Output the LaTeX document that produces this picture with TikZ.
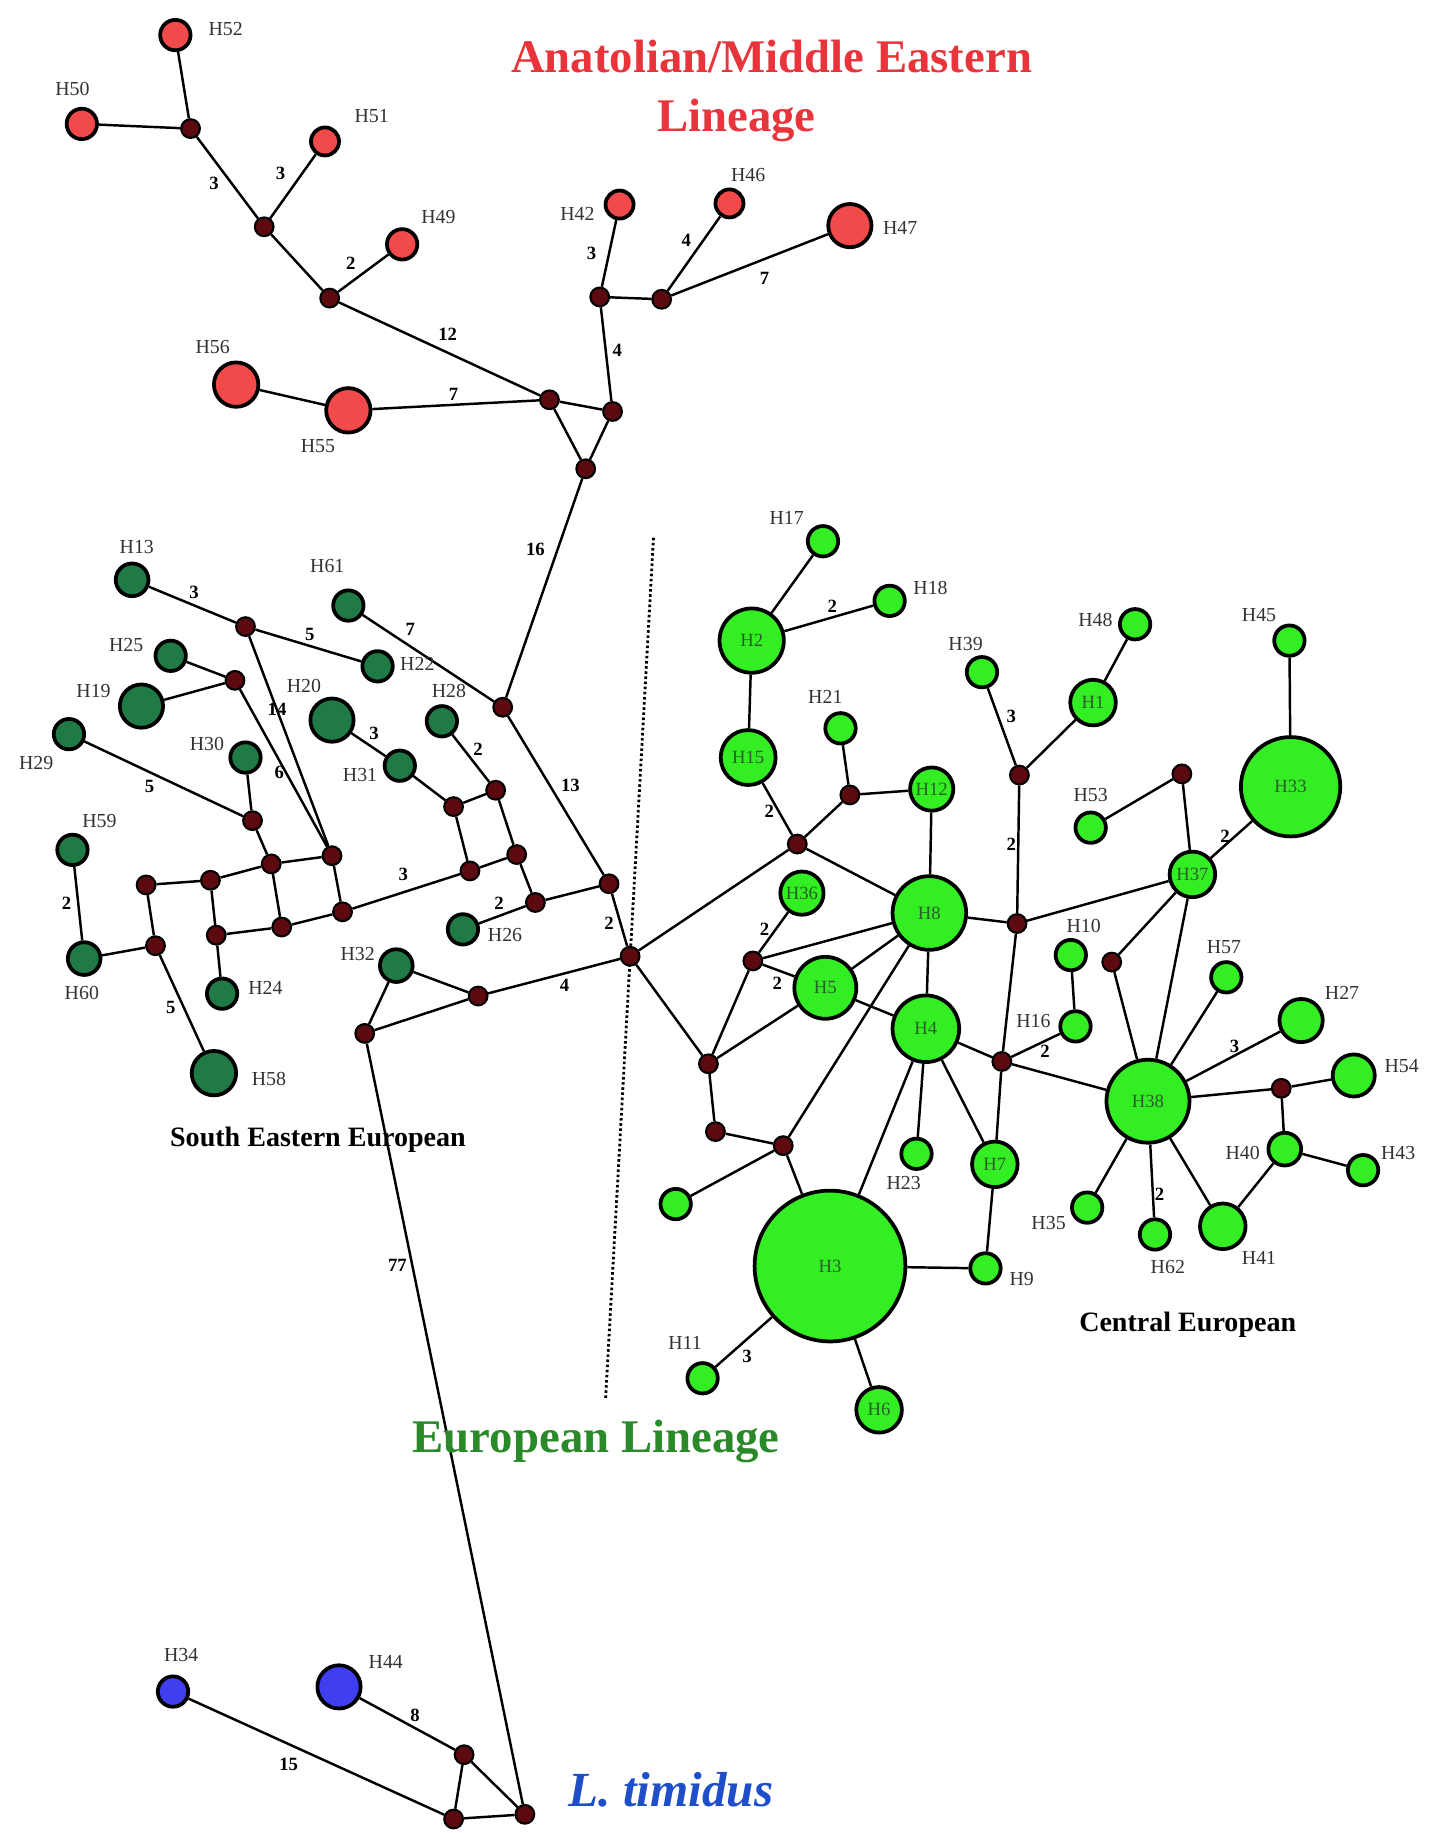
\documentclass[tikz,border=0pt]{standalone}
\usepackage{fontspec}
\setmainfont{Liberation Serif}
\pgfdeclarelayer{bg}
\pgfsetlayers{bg,main}
\definecolor{medc}{HTML}{5C0A10}
\definecolor{redc}{HTML}{F24A4A}
\definecolor{dgreen}{HTML}{1F7A45}
\definecolor{lgreen}{HTML}{33EE22}
\definecolor{bluec}{HTML}{3F3FF0}
\definecolor{tred}{HTML}{E8343A}
\definecolor{tgreen}{HTML}{2A8A2A}
\definecolor{tblue}{HTML}{1F4FC8}
\definecolor{intext}{HTML}{2A5E2A}
\begin{document}
\begin{tikzpicture}[x=1pt,y=-1pt,
 hap/.style={circle, draw=black, line width=3.2pt, inner sep=0pt, font=\fontsize{16}{16}\selectfont, text=intext},
 rn/.style={hap, fill=redc},
 dg/.style={hap, fill=dgreen},
 lg/.style={hap, fill=lgreen},
 bl/.style={hap, fill=bluec},
 med/.style={circle, draw=black, line width=1.8pt, fill=medc, minimum size=16, inner sep=0pt},
 lab/.style={font=\fontsize{17}{17}\selectfont, text=black!80, inner sep=0pt},
 num/.style={font=\bfseries\fontsize{16}{16}\selectfont, inner sep=0pt},
 edge/.style={line width=2.1pt}]
\useasboundingbox (0,0) rectangle (1223,1568);

% ---------- Anatolian / Middle Eastern ----------
\node[rn, minimum size=26] (H52) at (150,30) {};
\node[rn, minimum size=26] (H50) at (70,106) {};
\node[rn, minimum size=24] (H51) at (278,121) {};
\node[rn, minimum size=26] (H49) at (344,209) {};
\node[rn, minimum size=24] (H42) at (530,175) {};
\node[rn, minimum size=24] (H46) at (624,174) {};
\node[rn, minimum size=37] (H47) at (727,193) {};
\node[rn, minimum size=38] (H56) at (202,329) {};
\node[rn, minimum size=38] (H55) at (298,351) {};
\node[med] (m1) at (163,110) {};
\node[med] (m2) at (226,194) {};
\node[med] (m3) at (282,255) {};
\node[med] (m4) at (513,254) {};
\node[med] (m5) at (566,256) {};
\node[med] (m6) at (470,342) {};
\node[med] (m7) at (524,352) {};
\node[med] (m8) at (501,401) {};

% ---------- South Eastern European ----------
\node[dg, minimum size=28] (H13) at (113,496) {};
\node[dg, minimum size=26] (H61) at (298,518) {};
\node[dg, minimum size=26] (H22) at (323,570) {};
\node[dg, minimum size=26] (H25) at (146,561) {};
\node[dg, minimum size=37] (H19) at (121,604) {};
\node[dg, minimum size=37] (H20) at (284,616) {};
\node[dg, minimum size=26] (H28) at (378,617) {};
\node[dg, minimum size=26] (H29) at (59,628) {};
\node[dg, minimum size=26] (H30) at (210,648) {};
\node[dg, minimum size=26] (H31) at (342,655) {};
\node[dg, minimum size=26] (H59) at (62,727) {};
\node[dg, minimum size=28] (H60) at (72,820) {};
\node[dg, minimum size=26] (H24) at (190,850) {};
\node[dg, minimum size=38] (H58) at (183,918) {};
\node[dg, minimum size=26] (H26) at (396,795) {};
\node[dg, minimum size=28] (H32) at (339,826) {};
\node[med] (m9) at (430,605) {};
\node[med] (m10) at (210,536) {};
\node[med] (m11) at (201,582) {};
\node[med] (m12) at (216,702) {};
\node[med] (m13) at (284,732) {};
\node[med] (m14) at (232,739) {};
\node[med] (m15) at (180,753) {};
\node[med] (m16) at (125,757) {};
\node[med] (m17) at (185,800) {};
\node[med] (m18) at (241,793) {};
\node[med] (m19) at (293,780) {};
\node[med] (m20) at (133,809) {};
\node[med] (m21) at (388,690) {};
\node[med] (m22) at (424,676) {};
\node[med] (m23) at (402,745) {};
\node[med] (m24) at (442,731) {};
\node[med] (m25) at (458,772) {};
\node[med] (m26) at (521,756) {};
\node[med] (m27) at (539,818) {};
\node[med] (m28) at (409,852) {};
\node[med] (m29) at (312,884) {};

% ---------- Central European ----------
\node[lg, minimum size=26] (H17) at (704,463) {};
\node[lg, minimum size=26] (H18) at (761,514) {};
\node[lg, minimum size=55] (H2) at (643,548) {H2};
\node[lg, minimum size=47] (H15) at (640,648) {H15};
\node[lg, minimum size=26] (H21) at (719,623) {};
\node[lg, minimum size=37] (H12) at (797,675) {H12};
\node[lg, minimum size=37] (H36) at (686,764) {H36};
\node[lg, minimum size=63] (H8) at (795,781) {H8};
\node[lg, minimum size=26] (H39) at (840,575) {};
\node[lg, minimum size=26] (H48) at (971,534) {};
\node[lg, minimum size=39] (H1) at (935,601) {H1};
\node[lg, minimum size=26] (H45) at (1103,548) {};
\node[lg, minimum size=85] (H33) at (1104,673) {H33};
\node[lg, minimum size=26] (H53) at (933,708) {};
\node[lg, minimum size=39] (H37) at (1020,748) {H37};
\node[lg, minimum size=26] (H10) at (916,817) {};
\node[lg, minimum size=26] (H57) at (1049,836) {};
\node[lg, minimum size=53] (H5) at (706,845) {H5};
\node[lg, minimum size=57] (H4) at (792,880) {H4};
\node[lg, minimum size=26] (H16) at (920,878) {};
\node[lg, minimum size=37] (H27) at (1113,873) {};
\node[lg, minimum size=71] (H38) at (982,942) {H38};
\node[lg, minimum size=36] (H54) at (1158,920) {};
\node[lg, minimum size=28] (H40) at (1099,983) {};
\node[lg, minimum size=26] (H43) at (1166,1001) {};
\node[lg, minimum size=39] (H41) at (1046,1049) {};
\node[lg, minimum size=26] (H35) at (930,1033) {};
\node[lg, minimum size=26] (H62) at (988,1056) {};
\node[lg, minimum size=26] (H23) at (784,987) {};
\node[lg, minimum size=39] (H7) at (851,996) {H7};
\node[lg, minimum size=26] (H9) at (843,1085) {};
\node[lg, minimum size=26] (U1) at (578,1030) {};
\node[lg, minimum size=129] (H3) at (710,1083) {H3};
\node[lg, minimum size=26] (H11) at (601,1179) {};
\node[lg, minimum size=39] (H6) at (752,1206) {H6};
\node[med] (m31) at (727,680) {};
\node[med] (m32) at (682,722) {};
\node[med] (m33) at (870,790) {};
\node[med] (m34) at (872,663) {};
\node[med] (m35) at (1011,662) {};
\node[med] (m36) at (951,823) {};
\node[med] (m37) at (644,822) {};
\node[med] (m38) at (857,908) {};
\node[med] (m39) at (1096,931) {};
\node[med] (m40) at (606,910) {};
\node[med] (m41) at (612,968) {};
\node[med] (m42) at (670,980) {};

% ---------- L. timidus ----------
\node[bl, minimum size=26] (H34) at (148,1447) {};
\node[bl, minimum size=37] (H44) at (290,1443) {};
\node[med] (m43) at (397,1501) {};
\node[med] (m44) at (388,1556) {};
\node[med] (m30) at (449,1552) {};

% ---------- edges ----------
\begin{pgfonlayer}{bg}
\fill[white] (0,0) rectangle (1223,1568);
\draw[line width=2.4pt, dash pattern=on 2.2pt off 2.2pt] (559,460) coordinate (d1) -- (518,1197) coordinate (d2);
\foreach \a/\b in {H52/m1,H50/m1,m1/m2,H51/m2,m2/m3,H49/m3,m3/m6,H42/m4,m4/m5,H46/m5,H47/m5,m4/m7,H56/H55,H55/m6,m6/m7,m6/m8,m7/m8,m8/m9,
 H13/m10,m10/H22,m10/m13,H25/m11,H19/m11,m11/m13,H29/m12,H30/m12,m12/m14,m14/m13,m14/m18,m15/m14,m15/m17,m17/m18,m18/m19,m13/m19,m16/m15,m16/m20,m20/H60,H59/H60,m20/H58,m17/H24,m19/m23,m23/m24,H31/m21,m21/m22,m21/m23,H28/m22,m22/m24,m24/m25,H26/m25,m25/m26,m9/m26,m26/m27,m27/m28,m28/H32,m28/m29,H32/m29,m29/m30,H61/m9,H20/H31,
 H17/H2,H18/H2,H2/H15,H15/m32,H21/m31,m31/H12,m31/m32,m32/H8,m32/m27,m27/m40,H36/m37,m37/H8,m37/H5,m37/m40,m40/H5,m40/m41,m41/m42,m42/U1,m42/H3,m42/H8,H5/H8,H5/H4,H8/H4,H12/H8,H8/m33,H4/H3,H4/H23,H4/H7,H4/m38,m38/H16,m33/m38,m38/H7,H7/H9,H3/H9,H3/H11,H3/H6,H39/m34,H1/m34,H48/H1,m34/m33,m33/H37,H53/m35,m35/H37,H37/H33,H45/H33,H37/m36,m36/H38,H37/H38,H10/H16,m38/H38,H38/H57,H38/H27,H38/m39,m39/H54,m39/H40,H40/H43,H40/H41,H38/H41,H38/H62,H38/H35,
 H34/m44,H44/m43,m43/m44,m43/m30,m44/m30}
  \draw[edge] (\a) -- (\b);
\end{pgfonlayer}

% ---------- edge numbers ----------
\foreach \x/\y/\t in {183/157/3,240/148/3,300/225/2,383/286/12,506/217/3,587/206/4,654/238/7,528/300/4,388/337/7,458/470/16,
 166/507/3,265/543/5,351/538/7,237/607/14,320/627/3,409/641/2,239/661/6,128/673/5,488/672/13,345/748/3,57/773/2,427/773/2,521/790/2,483/843/4,146/862/5,340/1082/77,
 712/519/2,658/694/2,865/613/3,865/722/2,1048/715/2,654/795/2,665/841/2,894/899/2,1056/895/3,992/1022/2,639/1160/3,355/1467/8,247/1509/15}
  \node[num] at (\x,\y) {\t};

% ---------- haplotype labels ----------
\foreach \x/\y/\t in {193/25/H52,62/76/H50,318/99/H51,375/186/H49,494/183/H42,640/150/H46,770/195/H47,182/297/H56,272/382/H55,
 117/468/H13,280/484/H61,357/568/H22,108/552/H25,80/591/H19,260/587/H20,384/591/H28,31/653/H29,177/636/H30,308/663/H31,85/702/H59,70/849/H60,227/845/H24,230/923/H58,432/800/H26,306/816/H32,
 673/443/H17,796/503/H18,706/596/H21,826/551/H39,937/530/H48,1077/526/H45,933/680/H53,927/792/H10,1047/810/H57,884/873/H16,1148/849/H27,1199/912/H54,1063/986/H40,1196/986/H43,1077/1076/H41,897/1046/H35,999/1084/H62,773/1012/H23,874/1094/H9,586/1149/H11,
 155/1416/H34,330/1422/H44}
  \node[lab] at (\x,\y) {\t};

% ---------- titles ----------
\node[font=\bfseries\fontsize{40}{40}\selectfont, text=tred] (t1) at (660,48) {Anatolian/Middle Eastern};
\node[font=\bfseries\fontsize{40}{40}\selectfont, text=tred] (t2) at (630,103) {Lineage};
\node[font=\bfseries\fontsize{24}{24}\selectfont] (t3) at (272,975) {South Eastern European};
\node[font=\bfseries\fontsize{24}{24}\selectfont] (t4) at (1016,1133) {Central European};
\node[font=\bfseries\fontsize{40}{40}\selectfont, text=tgreen] (t5) at (510,1233) {European Lineage};
\node[font=\bfseries\itshape\fontsize{42}{42}\selectfont, text=tblue] (t6) at (574,1531) {L. timidus};
\end{tikzpicture}
\end{document}
